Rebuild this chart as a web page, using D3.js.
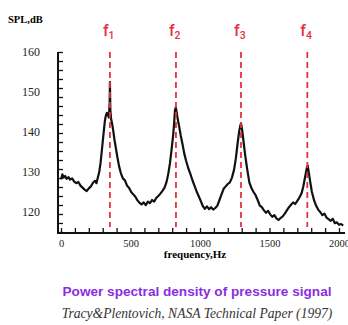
<!DOCTYPE html>
<html>
<head>
<meta charset="utf-8">
<script src="https://cdn.jsdelivr.net/npm/d3@7"></script>
<style>
  body { margin: 0; background: #fff; }
  svg { display: block; }
</style>
</head>
<body>
<svg id="chart" width="348" height="325"></svg>
<script>
// spectrum (Hz, dB)
let freq = [0,10,20,30,40,55,65,80,95,110,125,140,155,170,185,200,215,230,245,255,265,275,285,295,305,315,322,330,338,345,350,352,355,360,368,376,385,395,405,418,430,445,460,475,490,505,520,535,550,565,580,595,610,625,640,655,670,685,700,715,730,745,760,772,784,796,808,815,820,826,832,840,850,862,875,888,900,915,930,945,960,975,990,1005,1020,1035,1050,1065,1080,1095,1110,1125,1140,1155,1170,1185,1200,1215,1230,1245,1258,1270,1282,1290,1295,1302,1312,1325,1340,1355,1370,1385,1400,1415,1430,1445,1460,1475,1490,1505,1520,1535,1550,1565,1580,1595,1610,1625,1640,1655,1670,1685,1700,1715,1730,1742,1752,1762,1770,1775,1782,1792,1805,1820,1835,1850,1865,1880,1895,1910,1925,1940,1955,1970,1985,2000,2015,2030];
let spl = [128.2,129.4,128.6,129.0,128.3,128.7,128.1,128.4,127.6,127.2,127.5,126.6,126.1,125.6,125.2,125.9,126.4,127.3,127.8,127.2,128.6,130.0,132.4,135.8,139.2,142.6,144.0,144.8,144.2,143.6,147.5,152.5,145.5,143.4,142.0,140.3,138.0,135.9,133.8,131.4,129.8,128.4,127.9,126.6,126.0,125.0,124.4,123.8,122.9,122.3,121.9,122.4,121.7,122.6,122.2,123.0,122.6,123.5,124.0,124.6,125.3,126.1,127.6,129.6,132.2,135.8,139.6,142.8,145.4,146.2,144.8,143.2,141.4,139.0,136.8,134.4,132.8,131.0,129.6,128.0,126.6,125.2,124.0,122.8,121.5,120.8,121.4,120.7,121.2,120.6,121.0,121.6,123.0,124.4,125.8,126.4,127.0,127.4,128.6,130.6,133.4,137.0,140.2,141.6,142.2,140.8,138.0,134.2,130.6,127.4,126.0,125.0,124.2,123.0,121.6,121.2,120.4,119.8,120.3,119.4,118.8,119.2,118.4,118.0,118.5,118.9,119.6,120.4,121.2,121.8,122.4,122.0,122.8,123.6,124.6,126.2,128.0,129.8,131.2,131.6,130.0,127.8,125.0,123.0,121.6,120.6,120.0,119.2,119.6,118.6,118.2,117.8,118.3,117.2,117.4,116.8,117.0,116.6];

let peakFreq = [352, 827, 1295, 1772];
let peakNames = ["1", "2", "3", "4"];
let xTickLabels = [0, 500, 1000, 1500, 2000];
let yTickLabels = [120, 130, 140, 150, 160];

let xScale = d3.scaleLinear().domain([0, 2000]).range([61, 339]);
let yScale = d3.scaleLinear().domain([115, 160]).range([232, 52]);

let svg = d3.select("#chart");
let red = "#e5323f";
let serif = "'Liberation Serif', 'Times New Roman', serif";

let data = freq.map(function(f, i) { return { f: f, v: spl[i] }; });

let line = d3.line()
  .x(function(d) { return xScale(d.f); })
  .y(function(d) { return yScale(d.v); });

svg.append("path")
  .attr("d", line(data))
  .style("fill", "none")
  .style("stroke", "#111")
  .style("stroke-width", 2.2)
  .style("stroke-linejoin", "round");

// dashed markers at the peaks
svg.selectAll(".peak")
  .data(peakFreq)
  .enter().append("line")
  .attr("class", "peak")
  .attr("x1", function(d) { return xScale(d); })
  .attr("x2", function(d) { return xScale(d); })
  .attr("y1", yScale(160))
  .attr("y2", 227)
  .style("stroke", red)
  .style("stroke-width", 1.8)
  .style("stroke-dasharray", "6,4");

let fl = svg.selectAll(".flab")
  .data(peakFreq)
  .enter().append("text")
  .attr("class", "flab")
  .attr("x", function(d) { return xScale(d) - 7; })
  .attr("y", 36)
  .style("font-family", "Roboto, 'Liberation Sans', sans-serif")
  .style("font-weight", "500")
  .style("font-size", "16px")
  .style("fill", red);
fl.append("tspan").text("f");
fl.append("tspan")
  .attr("dy", 3)
  .style("font-size", "10.5px")
  .text(function(d, i) { return peakNames[i]; });

// axes: minor ticks pointing inward
let xMinor = d3.range(0, 2001, 100);
let yMinor = d3.range(0, 21).map(function(i) { return 160 - i * 2.25; });

svg.append("g")
  .attr("transform", "translate(0,233)")
  .call(d3.axisBottom(xScale).tickValues(xMinor).tickSize(-5).tickFormat(""))
  .call(function(g) { g.select(".domain").remove(); })
  .selectAll("line").style("stroke", "#111").style("stroke-width", 1.3);

svg.append("g")
  .attr("transform", "translate(0,233)")
  .call(d3.axisBottom(xScale).tickValues(xTickLabels).tickSize(0).tickPadding(7).tickFormat(d3.format("d")))
  .call(function(g) { g.select(".domain").remove(); })
  .selectAll("text")
  .style("font-family", serif)
  .style("font-size", "10.5px")
  .style("fill", "#222");

svg.append("g")
  .attr("transform", "translate(58,0)")
  .call(d3.axisLeft(yScale).tickValues(yMinor).tickSize(-5).tickFormat(""))
  .call(function(g) { g.select(".domain").remove(); })
  .selectAll("line").style("stroke", "#111").style("stroke-width", 1.3);

svg.append("g")
  .attr("transform", "translate(40,0)")
  .call(d3.axisLeft(yScale).tickValues(yTickLabels).tickSize(0).tickPadding(0).tickFormat(d3.format("d")))
  .call(function(g) { g.select(".domain").remove(); })
  .selectAll("text")
  .style("font-family", serif)
  .style("font-size", "12px")
  .style("fill", "#222");

// axis lines
svg.append("line")
  .attr("x1", 58).attr("x2", 58)
  .attr("y1", yScale(160)).attr("y2", 234)
  .style("stroke", "#111").style("stroke-width", 2);
svg.append("line")
  .attr("x1", 57).attr("x2", 345)
  .attr("y1", 233).attr("y2", 233)
  .style("stroke", "#111").style("stroke-width", 2);

// labels
svg.append("text")
  .attr("x", 8).attr("y", 23)
  .style("font-family", serif)
  .style("font-weight", "bold")
  .style("font-size", "10.5px")
  .text("SPL,dB");

svg.append("text")
  .attr("x", 195).attr("y", 258)
  .attr("text-anchor", "middle")
  .style("font-family", serif)
  .style("font-weight", "bold")
  .style("font-size", "11px")
  .text("frequency,Hz");

svg.append("text")
  .attr("x", 197).attr("y", 296)
  .attr("text-anchor", "middle")
  .style("font-family", "'Liberation Sans', Arial, sans-serif")
  .style("font-weight", "bold")
  .style("font-size", "13.6px")
  .style("fill", "#8a2de3")
  .text("Power spectral density of pressure signal");

svg.append("text")
  .attr("x", 197).attr("y", 318)
  .attr("text-anchor", "middle")
  .style("font-family", serif)
  .style("font-style", "italic")
  .style("font-size", "13.6px")
  .style("fill", "#333")
  .text("Tracy&Plentovich, NASA Technical Paper (1997)");
</script>
</body>
</html>
